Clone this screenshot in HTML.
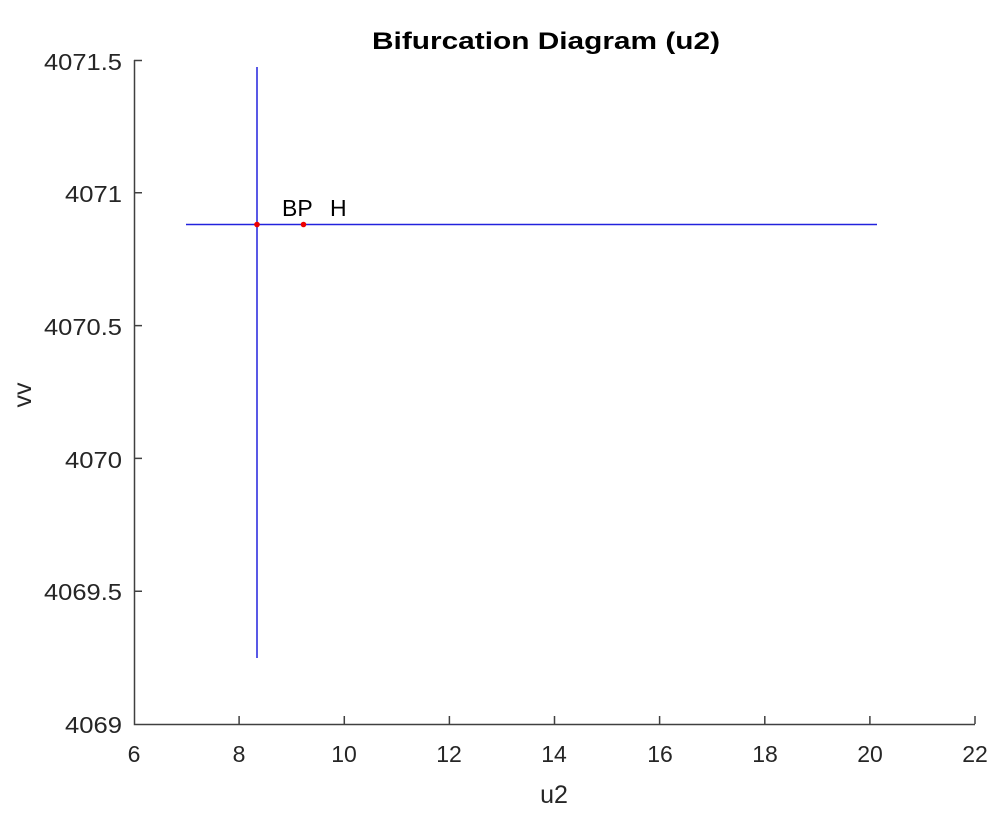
<!DOCTYPE html>
<html><head><style>body{margin:0;background:#fff}</style></head><body>
<svg width="1000" height="821" xmlns="http://www.w3.org/2000/svg" font-family="Liberation Sans, Arial, sans-serif">
<rect width="1000" height="821" fill="#fff"/>
<g stroke="#404040" stroke-width="1.5" fill="none">
<path d="M134.5 60 V724.5 H975"/>
<path d="M134 60.5h8 M134 192.8h8 M134 325.6h8 M134 458.4h8 M134 591.2h8"/>
<path d="M239.1 724v-8 M344.3 724v-8 M449.4 724v-8 M554.5 724v-8 M659.6 724v-8 M764.8 724v-8 M869.9 724v-8 M975 724v-8"/>
</g>
<g font-size="23" fill="#262626" text-anchor="end">
<text x="122" y="70" textLength="78" lengthAdjust="spacingAndGlyphs">4071.5</text>
<text x="122" y="202" textLength="57" lengthAdjust="spacingAndGlyphs">4071</text>
<text x="122" y="335" textLength="78" lengthAdjust="spacingAndGlyphs">4070.5</text>
<text x="122" y="468" textLength="57" lengthAdjust="spacingAndGlyphs">4070</text>
<text x="122" y="600" textLength="78" lengthAdjust="spacingAndGlyphs">4069.5</text>
<text x="122" y="733" textLength="57" lengthAdjust="spacingAndGlyphs">4069</text>
</g>
<g font-size="23" fill="#262626" text-anchor="middle">
<text x="134" y="762">6</text>
<text x="239" y="762">8</text>
<text x="344" y="762">10</text>
<text x="449" y="762">12</text>
<text x="554" y="762">14</text>
<text x="660" y="762">16</text>
<text x="765" y="762">18</text>
<text x="870" y="762">20</text>
<text x="975" y="762">22</text>
<text x="554" y="803" font-size="25">u2</text>
<text x="546" y="49" font-size="24" font-weight="bold" fill="#000" textLength="348" lengthAdjust="spacingAndGlyphs">Bifurcation Diagram (u2)</text>
</g>
<text x="0" y="0" font-size="25" fill="#262626" text-anchor="middle" transform="translate(31,395) rotate(-90)">vv</text>
<g stroke="#2222dd" stroke-width="1.5">
<line x1="257" y1="67" x2="257" y2="658"/>
<line x1="186" y1="224.5" x2="877" y2="224.5"/>
</g>
<circle cx="257" cy="224.5" r="2.8" fill="#e00"/>
<circle cx="303.5" cy="224.5" r="2.8" fill="#e00"/>
<text x="282" y="216" font-size="23" fill="#000">BP</text>
<text x="330" y="216" font-size="23" fill="#000">H</text>
</svg>
</body></html>
